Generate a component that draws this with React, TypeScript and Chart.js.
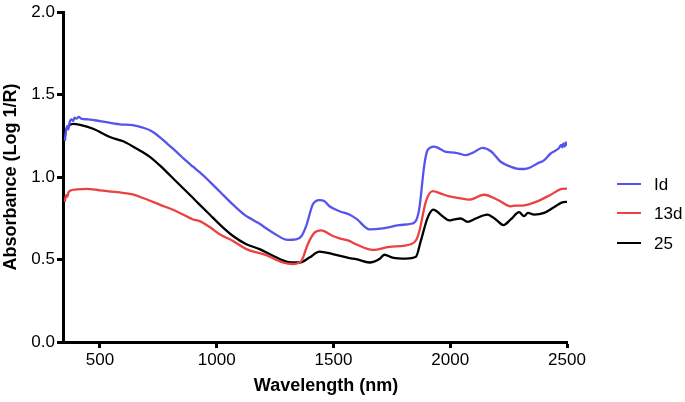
import React, { useEffect, useRef } from "react";
import { Chart, registerables } from "chart.js";

Chart.register(...registerables);

const xTicks = [500, 1000, 1500, 2000, 2500];
const yTicks = [0, 0.5, 1.0, 1.5, 2.0];

const idWl = [350, 355, 360, 365, 370, 378, 385, 392, 400, 410, 420, 450, 500, 585, 640, 684, 720, 756, 790, 828, 860, 899, 927, 970, 1013, 1070, 1127, 1150, 1177, 1241, 1305, 1340, 1362, 1383, 1412, 1440, 1460, 1483, 1526, 1568, 1600, 1654, 1711, 1782, 1832, 1855, 1868, 1889, 1903, 1932, 1981, 2017, 2038, 2067, 2100, 2138, 2174, 2216, 2259, 2290, 2316, 2345, 2373, 2400, 2430, 2450, 2465, 2475, 2480, 2485, 2490, 2495, 2500];
const idAbs = [1.22, 1.28, 1.31, 1.29, 1.33, 1.35, 1.34, 1.36, 1.355, 1.365, 1.355, 1.35, 1.34, 1.32, 1.315, 1.30, 1.28, 1.243, 1.20, 1.153, 1.11, 1.063, 1.03, 0.973, 0.913, 0.833, 0.763, 0.745, 0.723, 0.663, 0.619, 0.622, 0.64, 0.703, 0.835, 0.86, 0.855, 0.823, 0.793, 0.773, 0.745, 0.683, 0.689, 0.709, 0.717, 0.74, 0.813, 1.073, 1.163, 1.185, 1.153, 1.149, 1.143, 1.133, 1.15, 1.177, 1.157, 1.093, 1.063, 1.05, 1.049, 1.06, 1.083, 1.10, 1.143, 1.16, 1.175, 1.195, 1.18, 1.205, 1.185, 1.21, 1.19];

const d13Wl = [350, 355, 360, 365, 372, 400, 443, 500, 585, 640, 685, 756, 827, 899, 927, 970, 1013, 1070, 1127, 1212, 1283, 1326, 1362, 1390, 1419, 1447, 1497, 1526, 1568, 1597, 1668, 1739, 1832, 1855, 1868, 1896, 1925, 1960, 1996, 2038, 2081, 2145, 2202, 2259, 2280, 2316, 2373, 2430, 2480, 2500];
const d13Abs = [0.85, 0.89, 0.88, 0.905, 0.917, 0.925, 0.929, 0.92, 0.907, 0.895, 0.873, 0.833, 0.793, 0.743, 0.733, 0.697, 0.653, 0.613, 0.563, 0.527, 0.482, 0.473, 0.49, 0.593, 0.663, 0.677, 0.643, 0.629, 0.613, 0.593, 0.559, 0.577, 0.593, 0.62, 0.673, 0.853, 0.915, 0.9, 0.883, 0.873, 0.863, 0.893, 0.863, 0.823, 0.827, 0.829, 0.853, 0.893, 0.929, 0.93];

const d25Wl = [350, 356, 362, 370, 386, 415, 471, 543, 600, 656, 714, 770, 827, 899, 927, 970, 1013, 1070, 1127, 1184, 1241, 1298, 1355, 1397, 1440, 1497, 1568, 1597, 1654, 1697, 1718, 1753, 1810, 1853, 1874, 1903, 1927, 1967, 1996, 2017, 2045, 2074, 2109, 2159, 2195, 2228, 2259, 2295, 2316, 2333, 2359, 2402, 2444, 2480, 2500];
const d25Abs = [1.25, 1.29, 1.30, 1.315, 1.323, 1.317, 1.293, 1.243, 1.217, 1.173, 1.123, 1.053, 0.973, 0.873, 0.833, 0.773, 0.713, 0.643, 0.593, 0.563, 0.523, 0.488, 0.482, 0.512, 0.548, 0.533, 0.509, 0.503, 0.482, 0.503, 0.529, 0.512, 0.506, 0.517, 0.613, 0.753, 0.803, 0.763, 0.737, 0.743, 0.749, 0.729, 0.749, 0.773, 0.743, 0.709, 0.743, 0.787, 0.763, 0.783, 0.773, 0.783, 0.817, 0.847, 0.85];

const seriesLabels = ["Id", "13d", "25"];
const seriesColors = ["rgb(85,85,235)", "rgb(235,65,65)", "rgb(0,0,0)"];

const FONT = "'Liberation Sans', Arial, Helvetica, sans-serif";

export default function App() {
  const ref = useRef<HTMLCanvasElement | null>(null);

  useEffect(() => {
    if (!ref.current) return;
    const mk = (wl: number[], v: number[]) => wl.map((x, i) => ({ x, y: v[i] }));
    const wls = [idWl, d13Wl, d25Wl];
    const vals = [idAbs, d13Abs, d25Abs];

    const extras = {
      id: "extras",
      afterDraw(chart: any) {
        const ctx = chart.ctx;
        ctx.save();
        ctx.font = `bold 18px ${FONT}`;
        ctx.fillStyle = "#000";
        ctx.textAlign = "center";
        ctx.textBaseline = "middle";
        ctx.fillText("Wavelength (nm)", 326, 386);
        const ys = [184, 213, 243];
        ctx.font = `17px ${FONT}`;
        ctx.textAlign = "left";
        seriesLabels.forEach((lab, i) => {
          ctx.strokeStyle = seriesColors[i];
          ctx.lineWidth = 2;
          ctx.beginPath();
          ctx.moveTo(617, ys[i]);
          ctx.lineTo(641, ys[i]);
          ctx.stroke();
          ctx.fillStyle = "#000";
          ctx.fillText(lab, 654, ys[i] + 1);
        });
        ctx.restore();
      },
    };

    const chart = new Chart(ref.current, {
      type: "line",
      data: {
        datasets: seriesLabels.map((lab, i) => ({
          label: lab,
          data: mk(wls[i], vals[i]),
          borderColor: seriesColors[i],
          backgroundColor: seriesColors[i],
          borderWidth: 2.3,
          pointRadius: 0,
          tension: 0.3,
          cubicInterpolationMode: "monotone" as const,
          fill: false,
        })),
      },
      options: {
        animation: false,
        responsive: false,
        layout: { padding: { top: 9, right: 118, left: 0, bottom: 0 } },
        plugins: { legend: { display: false }, tooltip: { enabled: false } },
        scales: {
          x: {
            type: "linear",
            min: 342,
            max: 2500,
            afterBuildTicks: (s: any) => {
              s.ticks = xTicks.map((v) => ({ value: v }));
            },
            afterFit: (s: any) => {
              s.height = 60;
            },
            ticks: {
              color: "#000",
              font: { family: FONT, size: 17 },
              padding: 2,
              maxRotation: 0,
              autoSkip: false,
              callback: (v: any) => String(v),
            },
            grid: {
              display: true,
              drawOnChartArea: false,
              drawTicks: true,
              tickLength: 6,
              tickWidth: 3,
              tickColor: "#000",
            },
            border: { display: true, color: "#000", width: 3 },
          },
          y: {
            type: "linear",
            min: 0,
            max: 2,
            afterBuildTicks: (s: any) => {
              s.ticks = yTicks.map((v) => ({ value: v }));
            },
            afterFit: (s: any) => {
              s.width = 63;
            },
            ticks: {
              color: "#000",
              font: { family: FONT, size: 17 },
              padding: 2,
              callback: (v: any) => Number(v).toFixed(1),
            },
            grid: {
              display: true,
              drawOnChartArea: false,
              drawTicks: true,
              tickLength: 6,
              tickWidth: 3,
              tickColor: "#000",
            },
            border: { display: true, color: "#000", width: 3 },
            title: {
              display: true,
              text: "Absorbance (Log 1/R)",
              color: "#000",
              font: { family: FONT, size: 18, weight: "bold" },
              padding: 0,
            },
          },
        },
      },
      plugins: [extras],
    });
    return () => chart.destroy();
  }, []);

  return (
    <div style={{ position: "absolute", left: 0, top: 0, width: 685, height: 402, background: "#fff" }}>
      <canvas ref={ref} width={685} height={402} />
    </div>
  );
}
